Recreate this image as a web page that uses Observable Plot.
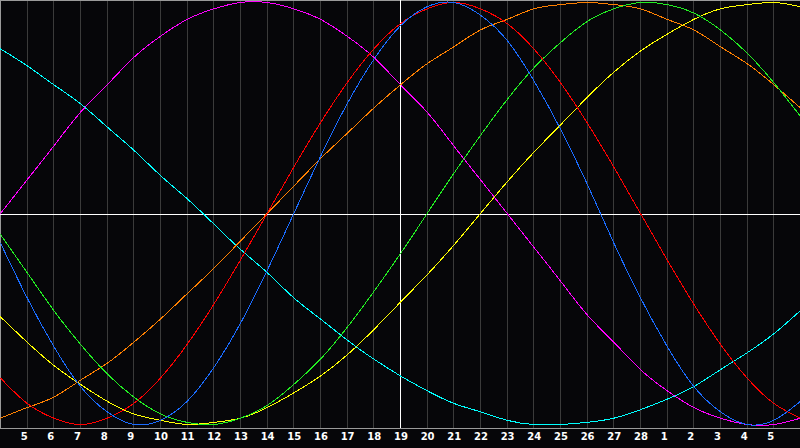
<!DOCTYPE html>
<html>
<head>
<meta charset="utf-8">
<script src="https://cdn.jsdelivr.net/npm/d3@7"></script>
<script src="https://cdn.jsdelivr.net/npm/@observablehq/plot@0.6"></script>
<style>
html, body { margin: 0; padding: 0; background: #060609; overflow: hidden; }
#chart svg { display: block; }
</style>
</head>
<body>
<div id="chart"></div>
<script>
// Day numbers along the x axis (index 0 = left edge, last = right edge)
const days = [4,5,6,7,8,9,10,11,12,13,14,15,16,17,18,19,20,21,22,23,24,25,26,27,28,1,2,3,4,5,6];
const todayIndex = 15; // day 19

// Cycle values (-100 .. 100), one per day
const physical     = [-14,-40,-63,-82,-94,-100,-98,-89,-73,-52,-27,0,27,52,73,89,98,100,94,82,63,40,14,-14,-40,-63,-82,-94,-100,-98,-89];
const emotional    = [-78,-90,-97,-100,-97,-90,-78,-62,-43,-22,0,22,43,62,78,90,97,100,97,90,78,62,43,22,0,-22,-43,-62,-78,-90,-97];
const intellectual = [-10,-28,-46,-62,-76,-87,-95,-99,-100,-97,-91,-81,-69,-54,-37,-19,0,19,37,54,69,81,91,97,100,99,95,87,76,62,46];
const intuitive    = [0,16,32,48,61,74,84,92,97,100,100,97,92,84,74,61,48,32,16,0,-16,-32,-48,-61,-74,-84,-92,-97,-100,-100,-97];
const aesthetic    = [-49,-61,-72,-81,-89,-95,-98,-100,-99,-97,-92,-85,-77,-67,-55,-42,-29,-15,0,15,29,42,55,67,77,85,92,97,99,100,98];
const awareness    = [-97,-92,-87,-79,-71,-61,-50,-38,-26,-13,0,13,26,38,50,61,71,79,87,92,97,99,100,99,97,92,87,79,71,61,50];
const spiritual    = [78,70,61,52,41,30,18,7,-5,-17,-28,-40,-50,-60,-69,-77,-84,-90,-94,-98,-100,-100,-99,-97,-93,-88,-82,-74,-66,-57,-46];

const seriesNames  = ["Spiritual","Intuitive","Awareness","Aesthetic","Intellectual","Emotional","Physical"];
const seriesColors = ["#00ffff","#ff00ff","#ff8000","#ffff00","#22ee22","#ff0000","#1a6cff"];
const seriesValues = [spiritual, intuitive, awareness, aesthetic, intellectual, emotional, physical];

const rows = seriesNames.flatMap((name, s) => seriesValues[s].map((v, i) => ({name, i, v})));
const dayRows = days.map((d, i) => ({i, d}));
const labelled = dayRows.filter(o => o.i > 0 && o.i < days.length - 1);
const gridDays = labelled.filter(o => o.i !== todayIndex);

const chart = Plot.plot({
  width: 800,
  height: 448,
  marginTop: 2,
  marginBottom: 24,
  marginLeft: 0,
  marginRight: 0,
  x: {domain: [0, days.length - 1], axis: null},
  y: {domain: [-100, 100], axis: null},
  color: {domain: seriesNames, range: seriesColors},
  style: {background: "#060609", overflow: "visible"},
  marks: [
    Plot.ruleX(gridDays, {x: "i", stroke: "#3a3a3a", insetTop: -2, insetBottom: -4, shapeRendering: "crispEdges"}),
    Plot.ruleX([0], {stroke: "#9a9a9a", insetTop: -2, insetBottom: -4, shapeRendering: "crispEdges"}),
    Plot.ruleY([100], {stroke: "#9a9a9a", dy: -2, shapeRendering: "crispEdges"}),
    Plot.ruleY([-100], {stroke: "#9a9a9a", dy: 4, shapeRendering: "crispEdges"}),
    Plot.ruleX([todayIndex], {stroke: "#ffffff", insetTop: -2, insetBottom: -4, shapeRendering: "crispEdges"}),
    Plot.ruleY([0], {stroke: "#ffffff", dy: 1, shapeRendering: "crispEdges"}),
    Plot.line(rows, {x: "i", y: "v", z: "name", stroke: "name", curve: "natural", strokeWidth: 1, shapeRendering: "crispEdges"}),
    Plot.text(labelled, {
      x: "i", frameAnchor: "bottom", text: "d", dy: 15.6, dx: -6.5, textAnchor: "start",
      fill: "#ffffff", fontSize: 10, fontWeight: "bold", fontFamily: "DejaVu Sans"
    })
  ]
});
document.getElementById("chart").appendChild(chart);
</script>
</body>
</html>
